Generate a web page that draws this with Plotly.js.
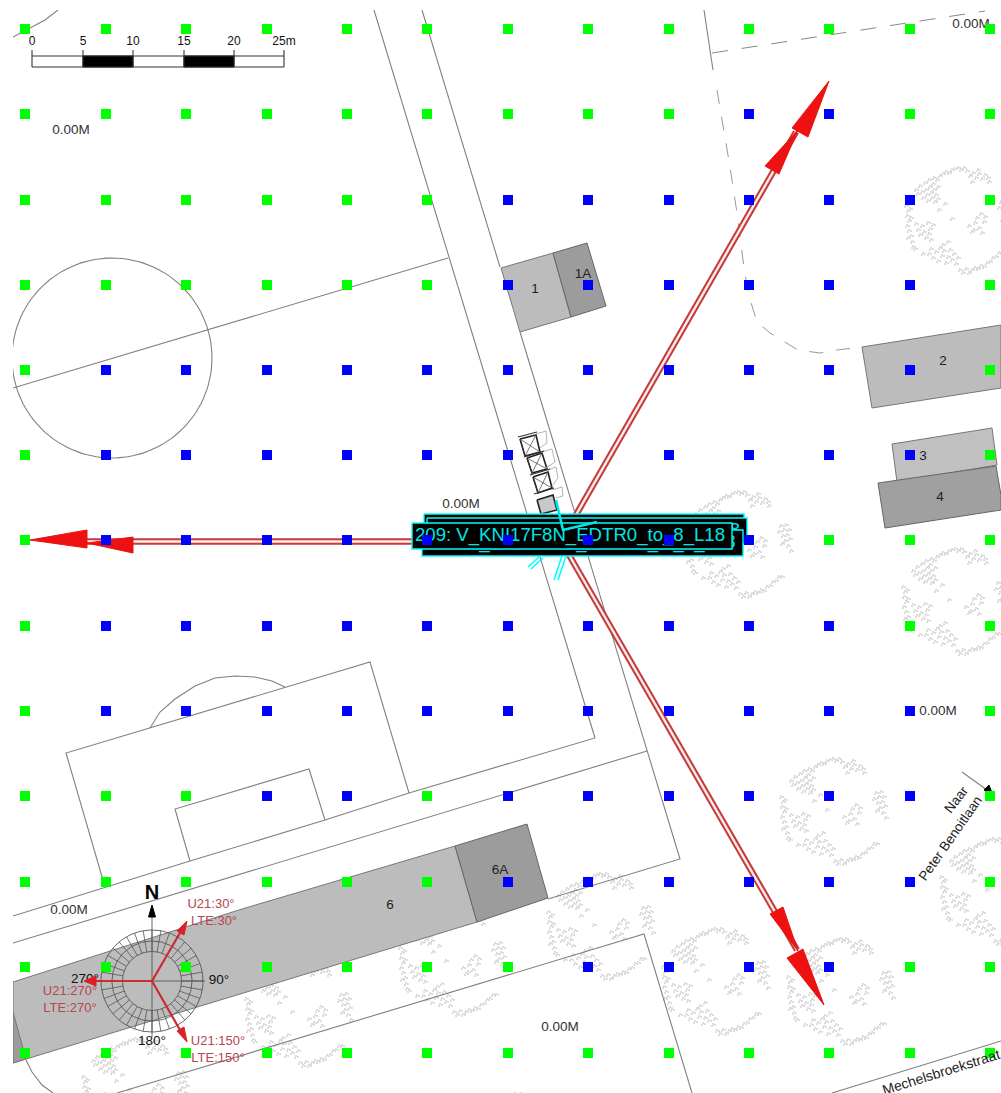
<!DOCTYPE html>
<html>
<head>
<meta charset="utf-8">
<script src="https://cdn.plot.ly/plotly-3.0.1.min.js"></script>
<style>html,body{margin:0;padding:0;background:#fff;overflow:hidden}</style>
</head>
<body>
<div id="chart" style="width:1001px;height:1093px"></div>
<script>
// ---- prediction grid ----
const gridX = [25,106,186,267,347,427,508,588,669,749,829,910,990];
const gridY = [29,114,200,285,370,455,540,626,711,796,882,967,1053];
const gridState = [
  "GGGGGGGGGGGGG",
  "GGGGGGGGGBBGG",
  "GGGGGGBBBBBBG",
  "GGGGGGBBBBBBG",
  "GBBBBBBBBBBBG",
  "GBBBBBBBBBBBG",
  "GBBBBBBBBBGGG",
  "GBBBBBBBBBBGG",
  "GBBBBBBBBBBBG",
  "GGGBBGBBBBBBG",
  "GGGGGGBBBBBBG",
  "GGGGGGGBBBBGG",
  "GGGGGGGGGGGGG"
];
// ---- base map line work ----
const roadA = [[374,10],[595,738],[409,793],[325,820],[190,861],[112,885],[13,916]];
const roadB = [[422,10],[500,267]];
const roadB2 = [[520,332],[647,751],[680,859],[548,899]];
const roadC = [[647,751],[13,943]];
const parcelS = [[117,1093],[644,934],[692,1093]];
const sideStreet = [[13,388],[448,258]];
const arcNW = [[13,37],[30,28],[45,20],[58,10]];
const bigCircle = {cx:112, cy:358, r:100};
const blockOuter = [[105,887],[66,753],[370,662],[409,793]];
const blockInner = [[190,861],[175,809],[309,769],[325,820]];
const blockArc = [[150,728],[160,712],[175,699],[195,686],[215,678],[235,676],[255,677],[272,681],[285,687]];
const edgeSolid = [[704,10],[713,70]];
const dashEdge = [[717,90],[730,167],[737,213],[743,260],[748,293],[757,322],[770,333],[798,350],[820,353],[837,350],[862,347]];
const dashTop = [[712,53],[985,11]];
const mechelsLine = [[832,1093],[1001,1041]];
const lowerCurve = [[26,1060],[32,1072],[42,1085],[53,1093]];
const naarLine = [[962,772],[987,790]];
const naarHead = [[992,793],[984,790],[989,785]];
// ---- buildings ----
const house1 = [[501,268],[553,253],[571,317],[520,332]];
const house1A = [[553,253],[587,243],[606,306],[571,317]];
const house2 = [[862,347],[1001,325],[1001,388],[872,408]];
const house3 = [[892,444],[992,428],[997,465],[897,482]];
const house4 = [[878,483],[996,466],[1001,495],[1001,510],[885,528]];
const house6 = [[455,846],[242,909],[13,982],[13,1063],[477,922]];
const house6A = [[527,824],[455,846],[477,922],[548,898]];
const house7 = [[13,1012],[26,1059],[13,1063]];
// ---- trees (one repeating stamp) ----
const treeCentres = [[958,219],[738,543],[955,600],[833,810],[993,890],[715,980],[840,990],[298,1012],[452,961],[600,925],[135,1090],[515,1145]];
const treeStamp = [
 [-42,-30],[-40,-26],[-38,-34],[-36,-28],[-35,-22],[-33,-37],[-32,-30],[-31,-25],[-30,-19],[-29,-40],[-28,-33],[-27,-27],[-26,-22],[-25,-36],[-24,-42],[-24,-30],[-23,-18],[-22,-25],[-21,-40],[-20,-33],[-20,-21],
 [-18,-44],[-15,-46],[-12,-48],[-9,-47],[-6,-50],[-3,-51],[0,-52],[3,-50],[6,-52],[9,-49],[12,-44],[15,-47],[18,-42],[21,-46],[24,-41],[27,-45],[30,-42],[31,-38],[20,-50],[14,-38],
 [-52,-14],[-50,-9],[-51,-4],[-49,1],[-51,6],[-49,11],[-47,16],[-50,18],[-46,22],[-48,-11],[-45,27],[-43,29],[-47,-2],
 [-42,4],[-40,10],[-38,15],[-36,6],[-34,12],[-32,18],[-30,3],[-28,9],[-27,20],[-29,14],[-25,5],
 [-19,-10],[-6,-1],[-13,-16],
 [41,-12],[43,-18],[45,-8],[46,-14],[47,-3],[48,-19],[49,-9],[50,2],[51,-14],[52,-5],[53,7],[44,0],
 [11,6],[14,12],[17,3],[19,-2],[21,8],[23,-6],[24,13],[26,2],[27,-3],[16,10],
 [-29,34],[-27,29],[-25,38],[-22,32],[-20,41],[-18,28],[-16,36],[-14,31],[-12,43],[-10,37],[-8,30],[-6,40],[-4,34],[-2,44],[0,38],[-15,25],
 [2,50],[5,53],[8,49],[11,53],[14,50],[17,48],[20,49],[23,46],[26,47],[29,43],[32,42],[35,38],[38,37],[41,33],[44,33],[-35,34],[-10,22]
];
const treeEcho = [[0,0],[2,1],[-1,2]];
// ---- coverage arrows ----
const beamNE = [[561,541],[796,132]];
const beamW = [[561,541.5],[87,541.5]];
const beamSE = [[561,541],[797,950]];
const headsNE = [[[829,81],[792,128],[808,137]],[[798,130],[765,166],[779,174]]];
const headsW = [[[30,540],[87,530],[87,548]],[[87,543],[133,537],[133,553]]];
const headsSE = [[[824,1005],[787,958],[803,949]],[[798,951],[770,914],[783,907]]];
// ---- beam labels ----
const beamLabel = "209: V_KNI17F8N_EDTR0_to_8_L18";
const labelBoxes = [[424,514,744,540],[427,518,747,544],[422,530,743,556],[412,523,732,549]];
const cyanL = [[556,500],[563,530],[597,522]];
const cyanTicks = [[[528,567],[540,556]],[[531,569],[543,558]],[[554,580],[562,556]],[[558,580],[566,556]]];
// ---- compass ----
const compass = {cx:152, cy:981, rings:[29.5,40,51], step:10};
const compassCross = [[[152,915],[152,1037]],[[90,981],[205,981]]];
const compassRays = [[[152,981],[184,926]],[[152,981],[88,981]],[[152,981],[184,1037]]];
const compassHeads = [[[187,921],[177,931],[184,935]],[[84,981],[96,976],[96,986]],[[187,1042],[177,1031],[184,1027]]];
const northHead = [[152,905],[148.5,917],[155.5,917]];
// ---- scale bar ----
const scaleTicks = [32,83,133,184,234,284];
const scaleNames = ["0","5","10","15","20","25m"];
const scaleBlack = [[83,133],[184,234]];
// ---- text ----
const heightLabels = [[71,131],[461,505],[971,25],[938,712],[69,911],[560,1028]];
const houseLabels = [["1",535,290],["1A",583,275],["2",943,362],["3",923,457],["4",940,498],["6",390,906],["6A",500,871]];
const compassLabels = [["90°",219,981],["180°",152,1042],["270°",85,980]];
const azimuthLabels = [["U21:30°",211,905],["LTE:30°",214,922],["U21:270°",70,992],["LTE:270°",70,1009],["U21:150°",218,1042],["LTE:150°",218,1059]];
// ---- stairs block ----
const stairBoxes = [[[520,439],[536,435],[540,452],[525,456]],[[527,458],[542,453],[547,469],[532,473]],[[533,477],[548,472],[552,488],[538,493]]];
const stairLast = [[537,500],[553,495],[557,510],[541,514]];
const doorArcs = [[[536,434],[546,431],[547,443],[540,448]],[[542,452],[552,449],[555,462],[546,468]],[[548,470],[556,467],[558,478],[552,486]],[[552,490],[562,487],[563,496],[556,498]]];
const stairBars = [[[518,437],[537,432]],[[524,457],[544,451]],[[530,475],[550,469]],[[534,494],[554,488]]];

// ---- helpers ----
const xs = p => p.map(q => q[0]);
const ys = p => p.map(q => q[1]);
const traces = [];
function line(p, color, width, dash){
  traces.push({type:'scatter',mode:'lines',x:xs(p),y:ys(p),line:{color:color||'#808080',width:width||1.1,dash:dash||'solid'},hoverinfo:'skip'});
}
function poly(p, fill, lc, lw){
  const c = p.concat([p[0]]);
  traces.push({type:'scatter',mode:'lines',x:xs(c),y:ys(c),fill:'toself',fillcolor:fill,line:{color:lc||fill,width:lw===undefined?1:lw},hoverinfo:'skip'});
}
function texts(items, size, color, family){
  traces.push({type:'scatter',mode:'text',x:items.map(t=>t[1]),y:items.map(t=>t[2]),text:items.map(t=>t[0]),textposition:'middle center',textfont:{size:size,color:color,family:family||'Liberation Sans'},hoverinfo:'skip'});
}
function ring(cx,cy,r,color,width){
  const p=[]; for(let a=0;a<=360;a+=3){p.push([cx+r*Math.sin(a*Math.PI/180),cy-r*Math.cos(a*Math.PI/180)]);}
  line(p,color,width);
}

// trees
const tx=[],ty=[];
treeCentres.forEach(c=>treeStamp.forEach(d=>treeEcho.forEach(e=>{tx.push(c[0]+d[0]+e[0]);ty.push(c[1]+d[1]+e[1]);})));
traces.push({type:'scatter',mode:'markers',x:tx,y:ty,marker:{size:1.8,color:'#dadada',symbol:'square'},hoverinfo:'skip'});

// buildings
poly(house1,'#bcbcbc','#777',1);
poly(house1A,'#9c9c9c','#666',1);
poly(house2,'#bcbcbc','#777',1);
poly(house3,'#c0c0c0','#777',1);
poly(house4,'#a0a0a0','#666',1);
poly(house6,'#bcbcbc','#777',1);
poly(house6A,'#9c9c9c','#666',1);
poly(house7,'#9c9c9c','#777',1);

// line work
[roadA,roadB,roadB2,roadC,parcelS,sideStreet,arcNW,blockOuter,blockInner,blockArc,mechelsLine,lowerCurve,naarLine,edgeSolid].forEach(p=>line(p));
line(dashEdge,'#999',1,'14px,13px');
line(dashTop,'#888',1,'16px,14px');
ring(bigCircle.cx,bigCircle.cy,bigCircle.r,'#808080',1.1);
poly(naarHead,'#000');

// stairs
stairBoxes.forEach(b=>{
  poly(b,'#ffffff','#222',1.6);
  line([b[0],b[2]],'#555',0.8);
  line([b[1],b[3]],'#555',0.8);
  line([b[0],b[3]],'#333',1);
});
poly(stairLast,'#c8c8c8','#222',1.6);
doorArcs.forEach(p=>line(p,'#aaa',0.9));
stairBars.forEach(p=>line(p,'#333',1.2));

// scale bar
scaleBlack.forEach(s=>poly([[s[0],56],[s[1],56],[s[1],67],[s[0],67]],'#000'));
line([[scaleTicks[0],56],[scaleTicks[5],56]],'#333',1.2);
line([[scaleTicks[0],67],[scaleTicks[5],67]],'#333',1.2);
scaleTicks.forEach(t=>line([[t,50],[t,67]],'#333',1.1));
texts(scaleNames.map((n,i)=>[n,scaleTicks[i],42]),12,'#111');

// compass
compass.rings.forEach(r=>ring(compass.cx,compass.cy,r,'#555',0.9));
for(let a=0;a<360;a+=compass.step){
  const s=Math.sin(a*Math.PI/180),c=Math.cos(a*Math.PI/180);
  const r0=compass.rings[0],r1=compass.rings[2];
  line([[compass.cx+r0*s,compass.cy-r0*c],[compass.cx+r1*s,compass.cy-r1*c]],'#555',0.8);
}
compassCross.forEach(p=>line(p,'#555',0.9));
poly(northHead,'#000');

// map text
texts(heightLabels.map(p=>["0.00M",p[0],p[1]]),13.5,'#333');
texts(houseLabels,13.5,'#222');
texts(compassLabels,13.5,'#111');
texts([["<b>N</b>",152,894]],20,'#000');

// arrows
[beamNE,beamW,beamSE].forEach(b=>{line(b,'#c43a42',6.5);line(b,'#fbeee0',2.4);});
headsNE.concat(headsW,headsSE).forEach(h=>poly(h,'#ee1111'));
compassRays.forEach(p=>line(p,'#cc2b33',2.2));
compassHeads.forEach(h=>poly(h,'#dd1f27'));
texts(azimuthLabels,13,'#b8464e');

// beam labels
labelBoxes.forEach(b=>{
  poly([[b[0],b[1]],[b[2],b[1]],[b[2],b[3]],[b[0],b[3]]],'#000','#00ffff',1.4);
  texts([[beamLabel,(b[0]+b[2])/2-2,(b[1]+b[3])/2]],18.6,'#00e6e6');
});
line(cyanL,'#00e8e8',2.6);
cyanTicks.forEach(p=>line(p,'#00ffff',1.6));

// grid points
const gx=[],gy=[],gc=[];
gridState.forEach((row,j)=>[...row].forEach((s,i)=>{gx.push(gridX[i]);gy.push(gridY[j]);gc.push(s==='G'?'#00ff00':'#0000ff');}));
traces.push({type:'scatter',mode:'markers',x:gx,y:gy,marker:{size:10,color:gc,symbol:'square',line:{width:0}},hoverinfo:'skip'});

const layout = {
  width:1001,height:1093,
  margin:{l:13,r:0,t:10,b:0,pad:0},
  paper_bgcolor:'#fff',plot_bgcolor:'#fff',
  showlegend:false,hovermode:false,
  xaxis:{range:[13,1001],visible:false,fixedrange:true},
  yaxis:{range:[1093,10],visible:false,fixedrange:true},
  font:{family:'Liberation Sans'},
  annotations:[
    {text:'Naar',x:956,y:799,xref:'x',yref:'y',showarrow:false,textangle:-52,font:{size:13.5,color:'#222'}},
    {text:'Peter Benoitlaan',x:950,y:838,xref:'x',yref:'y',showarrow:false,textangle:-55,font:{size:13.5,color:'#222'}},
    {text:'Mechelsbroekstraat',x:941,y:1072,xref:'x',yref:'y',showarrow:false,textangle:-17.5,font:{size:14,color:'#222'}}
  ]
};
Plotly.newPlot('chart',traces,layout,{displayModeBar:false,staticPlot:true});
</script>
</body>
</html>
